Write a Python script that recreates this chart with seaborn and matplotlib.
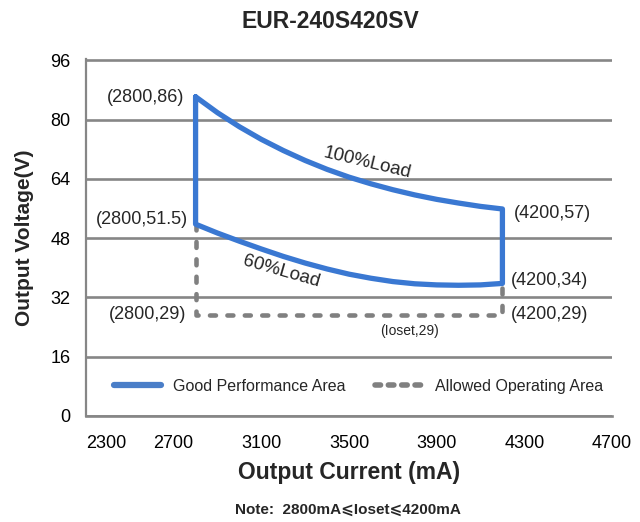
import matplotlib
matplotlib.use("Agg")
import matplotlib.pyplot as plt
from matplotlib.lines import Line2D
import seaborn as sns
import pandas as pd

# ---- data ----
current_100 = [2800, 2900, 3000, 3100, 3200, 3300, 3400, 3500, 3600, 3700, 3800, 3900, 4000, 4100, 4200]
voltage_100 = [86.2, 81.9, 78.1, 74.7, 71.7, 69.0, 66.6, 64.5, 62.7, 61.1, 59.7, 58.5, 57.5, 56.6, 55.9]
current_60 = [2800, 2900, 3000, 3100, 3200, 3300, 3400, 3500, 3600, 3700, 3800, 3900, 4000, 4100, 4200]
voltage_60 = [51.8, 49.4, 47.2, 45.1, 43.1, 41.3, 39.7, 38.3, 37.2, 36.3, 35.7, 35.4, 35.3, 35.4, 35.8]
allowed_current = [2800, 2800, 4200, 4200]
allowed_voltage = [51.8, 27.3, 27.3, 35.8]
x_ticks = [2300, 2700, 3100, 3500, 3900, 4300, 4700]
y_ticks = [0, 16, 32, 48, 64, 80, 96]
point_labels = [("(2800,86)", 2800, 86), ("(2800,51.5)", 2800, 51.5), ("(2800,29)", 2800, 29),
                ("(4200,57)", 4200, 57), ("(4200,34)", 4200, 34), ("(4200,29)", 4200, 29)]

sns.set_theme(style="white")
plt.rcParams['font.family'] = ['Liberation Sans', 'DejaVu Sans']

BLUE = "#3A78D2"
GRAY = "#808080"
GRID = "#868686"

fig = plt.figure(figsize=(6.4, 5.22), dpi=100)
ax = fig.add_axes([86/640, 1-416/522, (612-86)/640, (416-59)/522])

# Good performance boundary path (100% curve, right edge, 60% curve reversed, left edge)
path_x = current_100 + current_60[::-1] + [current_100[0]]
path_y = voltage_100 + voltage_60[::-1] + [voltage_100[0]]
good = pd.DataFrame({"x": path_x, "y": path_y})
allowed = pd.DataFrame({"x": allowed_current, "y": allowed_voltage})

sns.lineplot(data=allowed, x="x", y="y", sort=False, estimator=None, ax=ax,
             color=GRAY, linewidth=3.3, zorder=2)
ax.lines[-1].set_dashes((1.3, 2.5))
ax.lines[-1].set_dash_capstyle("round")
sns.lineplot(data=good, x="x", y="y", sort=False, estimator=None, ax=ax,
             color=BLUE, linewidth=3.8, zorder=3)
ax.lines[-1].set_solid_joinstyle("round")

ax.set_xlim(2300, 4700)
ax.set_ylim(0, 96.4)
ax.set_xticks(x_ticks)
ax.set_yticks(y_ticks)
ax.set_xticklabels([str(v) for v in x_ticks], fontsize=13)
ax.set_yticklabels([str(v) for v in y_ticks], fontsize=13)
ax.get_xticklabels()[0].set_horizontalalignment("left")

ax.grid(axis="y", color=GRID, linewidth=1.9)
ax.grid(axis="x", visible=False)
ax.set_axisbelow(True)
for s in ["top", "right"]:
    ax.spines[s].set_visible(False)
ax.spines["left"].set_color(GRID)
ax.spines["left"].set_linewidth(1.6)
ax.spines["bottom"].set_color(GRID)
ax.spines["bottom"].set_linewidth(1.9)
ax.tick_params(axis="x", direction="in", length=6, width=1.5, color=GRID, pad=14, labelcolor="black")
ax.tick_params(axis="y", length=0, pad=11, labelcolor="black")

ax.set_xlabel("Output Current (mA)", fontsize=16.5, fontweight="bold", labelpad=6)
ax.set_ylabel("Output Voltage(V)", fontsize=15, fontweight="bold", labelpad=12)
fig.text(0.516, 1-22/522, "EUR-240S420SV", ha="center", va="center", fontsize=16.5, fontweight="bold")
fig.text(0.543, 1-510/522, "Note:  2800mA\u2a7dIoset\u2a7d4200mA", ha="center", va="center",
         fontsize=11, fontweight="bold")

# point annotations
offsets = {"(2800,86)": (-11, 0), "(2800,51.5)": (-8, 6), "(2800,29)": (-9, 0),
           "(4200,57)": (11, -9), "(4200,34)": (8, 10), "(4200,29)": (8, 0)}
for txt, xv, yv in point_labels:
    dx, dy = offsets[txt]
    ha = "right" if xv == 2800 else "left"
    yy = yv if yv != 29 else 27.5
    ax.annotate(txt, (xv, yy), xytext=(dx, dy), textcoords="offset pixels",
                ha=ha, va="center", fontsize=13)
ax.text(3777, 23.0, "(Ioset,29)", ha="center", va="center", fontsize=10)
ax.text(3581, 68.2, "100%Load", ha="center", va="center", fontsize=13.5, rotation=-13.5)
ax.text(3189, 39.1, "60%Load", ha="center", va="center", fontsize=13.5, rotation=-16)

handles = [Line2D([], [], color="#4A7EC8", linewidth=4.5, solid_capstyle="round"),
           Line2D([], [], color=GRAY, linewidth=4.0, dashes=(1.0, 1.4), dash_capstyle="round")]
ax.legend(handles, ["Good Performance Area", "Allowed Operating Area"], loc="center left",
          bbox_to_anchor=(0.025, 0.083), ncol=2, frameon=False, fontsize=11.5,
          handlelength=3.0, handletextpad=0.7, columnspacing=1.9)

fig.savefig("out.png", dpi=100)
